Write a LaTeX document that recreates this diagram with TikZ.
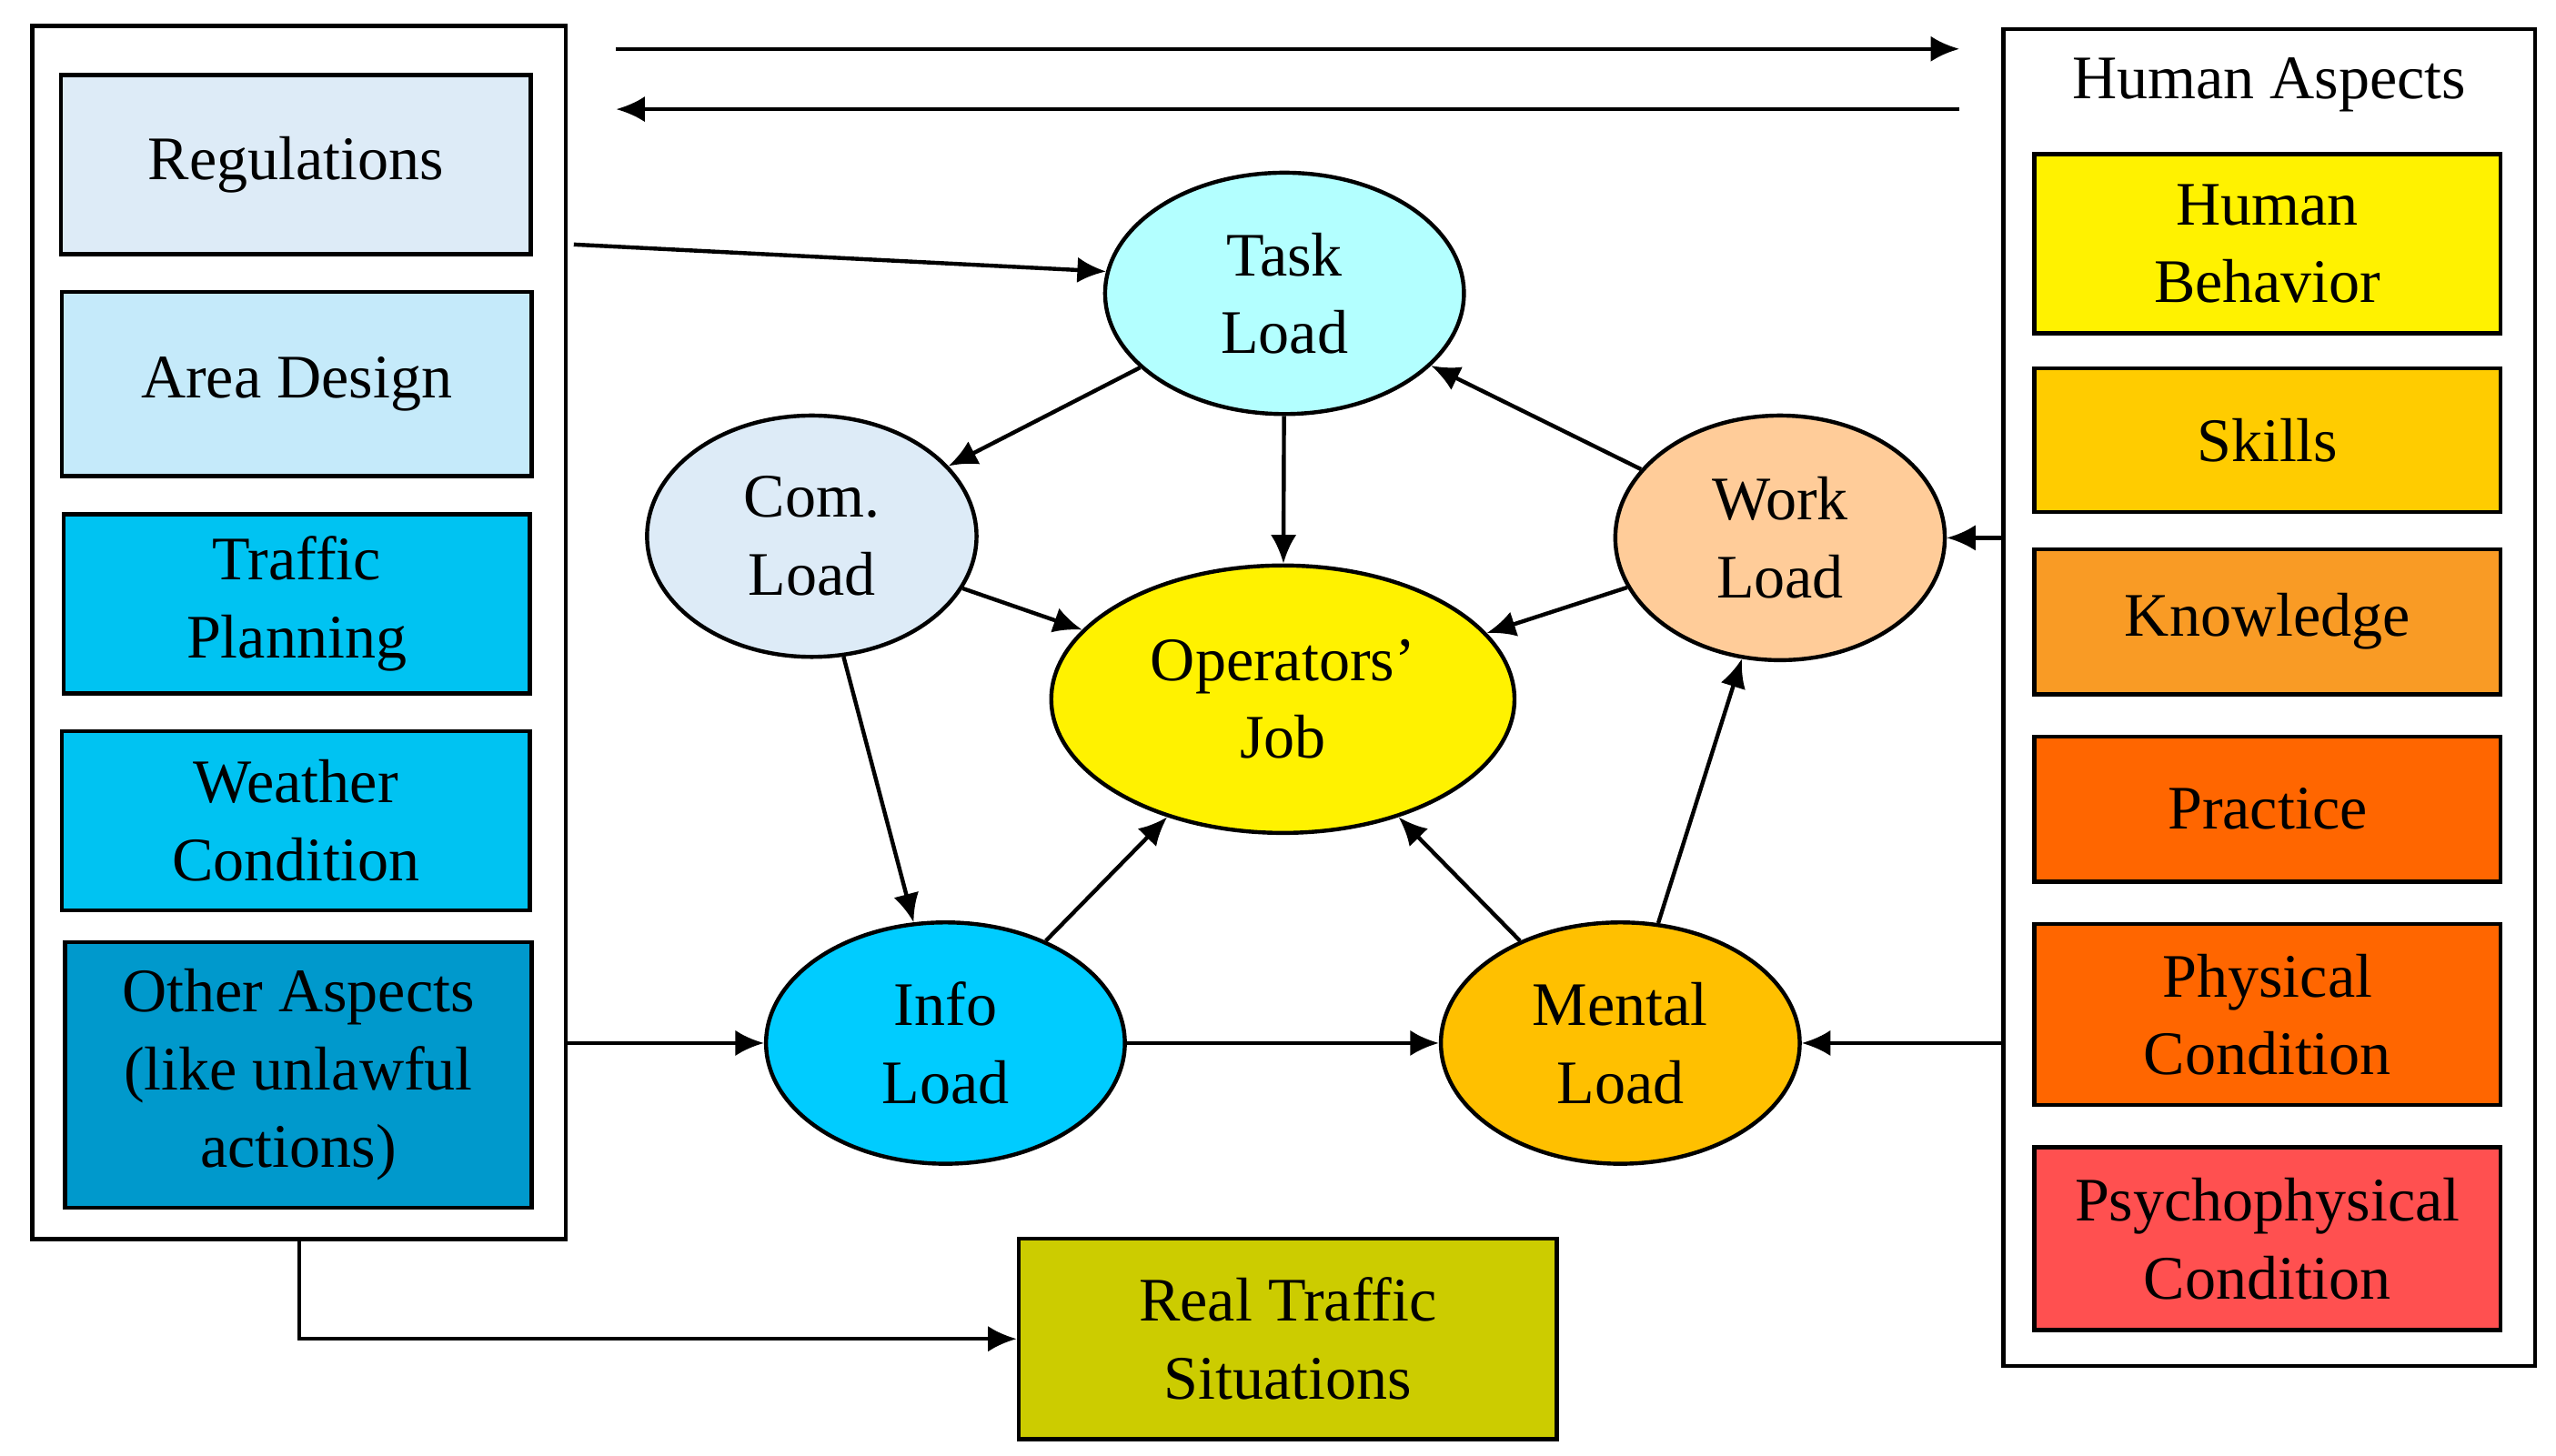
\documentclass[tikz,border=0pt]{standalone}
\usepackage{fontspec}
\setmainfont{Liberation Serif}
\usetikzlibrary{arrows.meta,shapes.geometric}
\definecolor{regcol}{HTML}{DDEBF7}
\definecolor{areacol}{HTML}{C5EAFA}
\definecolor{trafcol}{HTML}{00C3F2}
\definecolor{othcol}{HTML}{0099CC}
\definecolor{taskcol}{HTML}{B3FFFF}
\definecolor{workcol}{HTML}{FFCC99}
\definecolor{infocol}{HTML}{00CCFF}
\definecolor{mentcol}{HTML}{FFC000}
\definecolor{skillcol}{HTML}{FFCC00}
\definecolor{knowcol}{HTML}{F99B25}
\definecolor{praccol}{HTML}{FF6600}
\definecolor{psycol}{HTML}{FF5050}
\definecolor{realcol}{HTML}{CCCC00}
\begin{document}
\begin{tikzpicture}[x=0.01cm,y=-0.01cm,
  every node/.style={font=\fontsize{10.8}{13.6}\selectfont,align=center},
  line width=0.7pt, >={Latex[length=5pt,width=4.5pt]}]
  \tikzset{
    factor/.style={draw,rectangle,inner sep=0pt,minimum width=2.88cm,minimum height=1.10cm},
    load/.style={draw,ellipse,inner sep=0pt,minimum width=2.20cm,minimum height=1.48cm}
  }
  \useasboundingbox (0,0) rectangle (1568,893);
  % outer frames
  \node (left)[draw,inner sep=0pt,minimum width=3.27cm,minimum height=7.44cm] at (183.5,388){};
  \node (right)[draw,inner sep=0pt,minimum width=3.26cm,minimum height=8.20cm] at (1392,428){};
  \node at (1392,52){Human Aspects};
  % left factors
  \node (reg)[factor,fill=regcol] at (181.5,101){Regulations};
  \node (area)[factor,fill=areacol,minimum height=1.13cm] at (182,235.5){Area Design};
  \node (traf)[factor,fill=trafcol,minimum width=2.86cm] at (182,370.5){Traffic\\Planning};
  \node (weat)[factor,fill=trafcol,minimum width=2.87cm] at (181.5,503.5){Weather\\Condition};
  \node (oth)[factor,fill=othcol,minimum width=2.86cm,minimum height=1.63cm] at (183,659.5){Other Aspects\\(like unlawful\\actions)};
  % human aspects
  \node (beh)[factor,fill=yellow,minimum width=2.86cm] at (1391,149.5){Human\\Behavior};
  \node (skil)[factor,fill=skillcol,minimum width=2.86cm,minimum height=0.88cm] at (1391,270){Skills};
  \node (know)[factor,fill=knowcol,minimum width=2.86cm,minimum height=0.89cm] at (1391,381.5){Knowledge};
  \node (prac)[factor,fill=praccol,minimum width=2.86cm,minimum height=0.89cm] at (1391,496.5){Practice};
  \node (phys)[factor,fill=praccol,minimum width=2.86cm,minimum height=1.11cm] at (1391,622.5){Physical\\Condition};
  \node (psy)[factor,fill=psycol,minimum width=2.86cm,minimum height=1.12cm] at (1391,760){Psychophysical\\Condition};
  % loads
  \node (task)[load,fill=taskcol] at (788,180){Task\\Load};
  \node (com)[load,fill=regcol,minimum width=2.02cm] at (498,329){Com.\\Load};
  \node (work)[load,fill=workcol,minimum width=2.02cm,minimum height=1.50cm] at (1092,330){Work\\Load};
  \node (job)[load,fill=yellow,minimum width=2.84cm,minimum height=1.64cm] at (787,429){Operators’\\Job};
  \node (info)[load,fill=infocol] at (580,640){Info\\Load};
  \node (ment)[load,fill=mentcol] at (994,640){Mental\\Load};
  \node (real)[factor,fill=realcol,minimum width=3.30cm,minimum height=1.23cm] at (790,821.5){Real Traffic\\Situations};
  % top arrows
  \coordinate (tl1) at (378,30); \coordinate (tr1) at (1202,30);
  \coordinate (tl2) at (378,67); \coordinate (tr2) at (1202,67);
  \draw[->] (tl1) -- (tr1);
  \draw[->] (tr2) -- (tl2);
  % connectors
  \coordinate (regout) at (352,150);
  \draw[->] (regout) -- (task.173);
  \draw[->] (task) -- (com);
  \draw[->] (task) -- (job);
  \draw[->] (work) -- (task);
  \draw[->] (com) -- (job);
  \draw[->] (work) -- (job);
  \draw[->] (com) -- (info);
  \draw[->] (info) -- (job);
  \draw[->] (ment) -- (job);
  \draw[->] (ment) -- (work);
  \draw[->] (info) -- (ment);
  \draw[->] (left.east |- info) -- (info);
  \draw[->] (right.west |- ment) -- (ment);
  \draw[->] (right.west |- work) -- (work);
  \draw[->] (left.south) |- (real);
\end{tikzpicture}
\end{document}
